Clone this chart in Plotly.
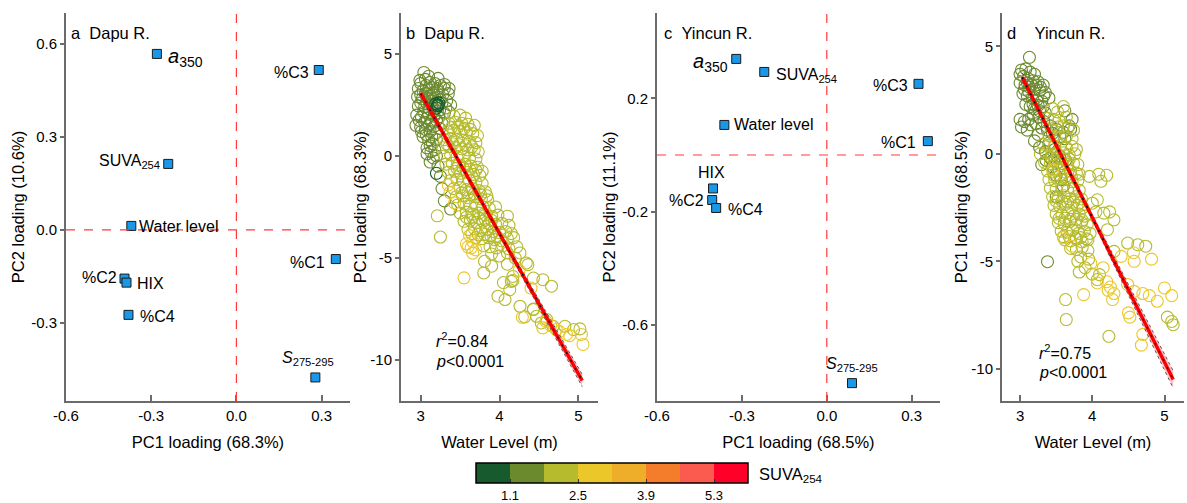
import plotly.graph_objects as go

W, H = 1187, 503

# ---------------- PCA loadings (panels a, c) ----------------
pca_vars = ["<i>a</i><sub>350</sub>", "%C3", "SUVA<sub>254</sub>", "Water level", "%C1",
            "%C2", "HIX", "%C4", "<i>S</i><sub>275-295</sub>"]
dapu_pc1 = [-0.28, 0.29, -0.24, -0.37, 0.35, -0.394, -0.387, -0.38, 0.278]
dapu_pc2 = [0.568, 0.516, 0.213, 0.013, -0.094, -0.157, -0.170, -0.274, -0.476]
yincun_pc1 = [-0.32, 0.324, -0.221, -0.362, 0.357, -0.405, -0.402, -0.391, 0.089]
yincun_pc2 = [0.339, 0.251, 0.293, 0.106, 0.049, -0.159, -0.118, -0.187, -0.805]

# ---------------- Dapu R. PC1 vs water level (panel b) ----------------
dapu_wl = [
    # green
    3.04, 2.99, 3.06, 3.12, 3.18, 3.25, 3.30, 2.97, 3.03, 3.10, 3.16, 3.22, 3.28, 3.35,
    2.96, 3.02, 3.08, 3.14, 3.20, 3.27, 3.33, 3.38, 2.97, 3.05, 3.11, 3.17, 3.24, 3.30, 3.36,
    2.95, 3.01, 3.08, 3.14, 3.20, 3.27, 2.94, 3.00, 3.06, 3.12, 3.19, 3.03, 3.10, 3.15,
    3.08, 3.13, 3.20, 3.12, 3.22, 3.25, 3.27, 3.30, 3.38,
    3.00, 3.07, 3.14, 3.21, 3.00, 3.06, 3.12, 3.18, 3.25, 3.00, 3.08, 3.14, 3.32, 3.04,
    3.10, 3.17, 3.23, 2.98, 3.05, 3.11, 3.17, 3.24, 3.01, 3.07, 3.14, 3.20, 3.12, 3.18,
    3.08, 3.16, 3.30, 3.36, 3.22, 3.10,
    # dark green
    3.19, 3.21, 3.20, 3.23, 3.20, 3.22,
    # yellow-green
    3.42, 3.50, 3.57, 3.36, 3.44, 3.52, 3.60, 3.68, 3.34, 3.42, 3.50, 3.58, 3.66, 3.72,
    3.30, 3.38, 3.46, 3.54, 3.62, 3.70, 3.28, 3.36, 3.44, 3.52, 3.60, 3.68, 3.73,
    3.30, 3.38, 3.46, 3.54, 3.62, 3.70, 3.32, 3.40, 3.48, 3.56, 3.64, 3.72,
    3.35, 3.43, 3.51, 3.59, 3.67, 3.75, 3.38, 3.46, 3.54, 3.62, 3.70, 3.78,
    3.42, 3.50, 3.58, 3.66, 3.74, 3.82, 3.45, 3.53, 3.61, 3.69, 3.77, 3.85,
    3.47, 3.55, 3.63, 3.71, 3.79, 3.87, 3.95, 3.50, 3.58, 3.66, 3.74, 3.82, 3.90, 3.98,
    3.55, 3.63, 3.71, 3.79, 3.87, 3.95, 4.03, 3.60, 3.68, 3.76, 3.84, 3.92, 4.00, 4.08,
    3.70, 3.78, 3.86, 3.94, 4.02, 4.10, 4.18, 3.80, 3.88, 3.96, 4.04, 4.12, 4.22,
    3.90, 4.00, 4.10, 4.26, 4.10, 4.12, 4.15,
    3.81, 3.80, 4.34, 4.43, 4.55, 4.66, 4.13, 4.26, 4.32, 4.36, 4.05, 4.17, 4.43,
    4.20, 4.10, 3.90, 3.21,
    3.39, 3.47, 3.55, 3.63, 3.33, 3.41, 3.49, 3.57, 3.65, 3.46, 3.54, 3.62, 3.70, 3.78,
    3.52, 3.60, 3.68, 3.76, 3.84, 3.58, 3.66, 3.74, 3.82, 3.90, 3.65, 3.73, 3.81, 3.89, 3.97,
    # yellow
    3.25, 4.17, 3.98, 4.07, 4.15, 4.43, 4.47, 4.53, 4.60, 4.68, 4.83, 4.94, 5.02, 5.04,
    5.06, 4.85, 4.55, 4.40, 4.72, 4.76, 4.89, 4.65, 4.59, 4.29, 4.25,
    # light orange
    3.62, 3.66, 3.70, 3.43, 3.58,
    # orange
    3.35, 3.37, 3.55, 3.66, 3.64, 3.60,
]
dapu_score = [
    # green
    4.09, 3.70, 3.75, 3.60, 3.55, 3.45, 3.30, 3.30, 3.20, 3.25, 3.10, 3.15, 3.00, 3.05,
    2.90, 2.80, 2.85, 2.70, 2.65, 2.60, 2.70, 2.50, 2.45, 2.40, 2.30, 2.20, 2.25, 2.10, 2.15,
    2.00, 1.90, 1.85, 1.70, 1.75, 1.60, 1.50, 1.40, 1.30, 1.20, 1.10, 0.95, 0.80, 0.60,
    0.40, 0.20, 0.00, -0.30, -0.50, -1.00, -1.60, -2.20, -2.60,
    3.55, 3.45, 3.35, 3.30, 3.00, 3.05, 2.95, 2.85, 2.75, 2.60, 2.55, 2.50, 2.35, 2.15,
    2.05, 1.95, 1.90, 1.75, 1.65, 1.55, 1.45, 1.35, 1.20, 1.05, 0.95, 0.80, 0.50, 0.30,
    0.10, -0.10, 3.50, 3.30, 3.80, 3.90,
    # dark green
    2.55, 2.45, 2.35, 2.60, -0.85, 2.50,
    # yellow-green
    1.95, 2.00, 1.85, 1.60, 1.65, 1.60, 1.55, 1.50, 1.20, 1.25, 1.20, 1.15, 1.10, 1.00,
    0.80, 0.85, 0.80, 0.75, 0.70, 0.65, 0.40, 0.45, 0.40, 0.35, 0.30, 0.30, 0.20,
    0.00, 0.05, -0.05, 0.00, -0.10, -0.15, -0.40, -0.35, -0.45, -0.40, -0.50, -0.55,
    -0.80, -0.75, -0.85, -0.80, -0.90, -0.95, -1.20, -1.15, -1.25, -1.20, -1.30, -1.35,
    -1.60, -1.55, -1.65, -1.60, -1.70, -1.75, -2.00, -1.95, -2.05, -2.00, -2.10, -2.15,
    -2.40, -2.35, -2.45, -2.40, -2.50, -2.55, -2.50, -2.80, -2.75, -2.85, -2.80, -2.90, -2.95, -2.90,
    -3.20, -3.15, -3.25, -3.20, -3.30, -3.35, -3.30, -3.60, -3.55, -3.65, -3.60, -3.70, -3.75, -3.70,
    -4.00, -4.05, -4.00, -4.10, -4.15, -4.05, -4.00, -4.40, -4.45, -4.50, -4.40, -4.55, -4.45,
    -4.80, -4.90, -4.75, -4.75, -2.95, -3.40, -3.80,
    -5.16, -5.73, -5.24, -5.98, -6.06, -6.38, -6.55, -7.36, -7.88, -5.32, -6.20, -6.10, -7.50,
    -5.00, -5.30, -5.40, -2.93,
    1.40, 1.40, 1.35, 1.30, 0.60, 0.60, 0.55, 0.50, 0.45, -0.60, -0.60, -0.65, -0.70, -0.75,
    -1.80, -1.80, -1.85, -1.90, -1.95, -3.00, -3.00, -3.05, -3.10, -3.15, -3.80, -3.85, -3.85, -3.90, -3.95,
    # yellow
    -3.97, -5.90, -6.87, -7.03, -6.14, -7.52, -7.85, -8.18, -8.01, -8.34, -8.34, -8.50, -8.47, -8.74,
    -9.23, -8.74, -8.42, -6.47, -8.50, -8.60, -8.80, -8.30, -8.10, -7.90, -5.60,
    # light orange
    -3.90, -4.20, -4.60, -2.30, -4.30,
    # orange
    -1.42, -1.80, -5.97, -4.76, -4.50, -4.45,
]
dapu_suva = ([1.45] * 86 + [0.75] * 6 + [2.15] * 170 + [2.85] * 25 + [3.55] * 5 + [4.25] * 6)

# ---------------- Yincun R. PC1 vs water level (panel d) ----------------
yincun_wl = [
    # green
    3.13, 3.02, 3.08, 3.14, 3.20, 3.05, 3.11, 3.18, 3.25, 3.32, 3.00, 3.07, 3.13, 3.20,
    3.27, 3.35, 3.04, 3.10, 3.17, 3.23, 3.30, 3.08, 3.14, 3.20, 3.27, 3.35, 3.00, 3.06,
    3.10, 3.15, 3.22, 3.30, 3.38, 3.45, 3.55, 3.62, 3.20, 3.27, 3.35, 3.42, 3.30, 3.45,
    3.50, 3.57, 3.38, 3.25,
    3.00, 3.10, 3.16, 3.22, 3.28, 3.33, 3.40, 3.12, 3.06, 3.18, 3.25, 3.32, 3.02, 3.12,
    3.18, 3.26, 3.33, 3.42, 3.50, 3.60, 3.70, 3.40, 3.48, 3.55, 3.36, 3.50, 3.60,
    3.62, 3.72, 3.68, 3.52, 3.58, 3.63,
    # yellow-green
    3.45, 3.52, 3.60, 3.38, 3.46, 3.54, 3.64, 3.52, 3.60, 3.66, 3.74,
    3.40, 3.48, 3.56, 3.64, 3.72, 3.32, 3.40, 3.48, 3.56, 3.64, 3.72, 3.78,
    3.28, 3.36, 3.44, 3.52, 3.60, 3.68, 3.76, 3.34, 3.42, 3.48, 3.66, 3.74, 3.80,
    3.38, 3.46, 3.54, 3.62, 3.70, 3.78, 3.40, 3.48, 3.56, 3.64, 3.72, 3.80,
    3.42, 3.50, 3.58, 3.66, 3.74, 3.82, 3.45, 3.53, 3.61, 3.69, 3.77, 3.85,
    3.47, 3.55, 3.63, 3.71, 3.79, 3.87, 3.50, 3.58, 3.66, 3.74, 3.82, 3.90,
    3.53, 3.61, 3.69, 3.77, 3.85, 3.93, 3.57, 3.65, 3.73, 3.81, 3.89, 3.97,
    3.62, 3.70, 3.78, 3.86, 3.94, 3.70, 3.78, 3.86, 3.94,
    3.82, 3.96, 4.09, 4.20, 4.00, 4.05, 4.24, 4.12, 4.07, 4.16, 4.30, 4.21,
    3.80, 3.84, 3.90, 4.00, 4.07, 3.82, 3.63, 3.64, 4.23, 5.04, 5.10, 5.12,
    3.95, 4.10, 4.30,
    3.44, 3.52, 3.60, 3.68, 3.47, 3.55, 3.63, 3.71, 3.50, 3.58, 3.66, 3.74, 3.82,
    3.54, 3.62, 3.70, 3.78, 3.86, 3.60, 3.68, 3.76, 3.84, 3.92,
    # yellow
    4.49, 4.63, 4.74, 4.57, 4.58, 4.40, 4.82, 3.88, 4.07, 4.20, 4.25, 4.30, 4.22, 4.28,
    4.49, 4.58, 4.70, 4.79, 4.90, 4.50, 4.52, 4.68, 4.70, 5.00, 5.10, 3.98, 4.15,
    # light orange / orange
    3.60, 3.45, 3.72,
]
yincun_score = [
    # green
    4.49, 3.90, 3.95, 3.80, 3.70, 3.60, 3.50, 3.40, 3.35, 3.20, 3.30, 3.20, 3.10, 3.00,
    2.95, 2.85, 2.80, 2.70, 2.60, 2.50, 2.45, 2.30, 2.20, 2.10, 2.00, 1.90, 1.60, 1.50,
    1.10, 1.35, 1.40, 1.20, 1.10, 0.95, 0.80, 0.70, 0.60, 0.30, 0.10, -0.20, -0.50, -0.60,
    -1.00, -1.20, -5.02, 0.90,
    3.70, 3.30, 3.20, 3.20, 3.10, 2.70, 2.60, 2.90, 3.00, 2.30, 2.25, 2.20, 1.25, 1.60,
    1.80, 1.70, 1.50, 1.30, 1.15, 1.00, 1.15, 0.50, 0.20, -0.10, -0.30, -2.00, -1.50,
    2.00, 1.60, 1.30, -0.40, -0.45, -0.30,
    # yellow-green
    2.10, 1.95, 2.20, 1.65, 1.60, 1.55, 1.70, 1.25, 1.30, 1.20, 1.10,
    0.85, 0.80, 0.75, 0.80, 0.70, 0.45, 0.40, 0.35, 0.40, 0.30, 0.35, 0.20,
    0.00, 0.05, -0.05, 0.00, 0.05, -0.05, 0.00, -0.40, -0.45, -0.35, -0.50, -0.45, -0.50,
    -0.80, -0.85, -0.75, -0.85, -0.80, -0.90, -1.20, -1.25, -1.15, -1.20, -1.30, -1.25,
    -1.60, -1.65, -1.60, -1.70, -1.60, -1.70, -2.00, -2.05, -1.95, -2.10, -2.00, -2.10,
    -2.40, -2.45, -2.35, -2.50, -2.40, -2.50, -2.80, -2.85, -2.75, -2.90, -2.80, -2.90,
    -3.20, -3.25, -3.15, -3.30, -3.20, -3.30, -3.60, -3.65, -3.55, -3.70, -3.60, -3.70,
    -4.00, -4.05, -3.95, -4.10, -4.00, -4.40, -4.45, -4.35, -4.50,
    -0.95, -1.05, -0.95, -1.00, -2.30, -2.70, -2.70, -1.28, -2.14, -2.76, -3.07, -3.53,
    -5.00, -4.80, -5.30, -5.60, -5.85, -5.50, -6.78, -7.71, -8.49, -7.60, -7.80, -7.95,
    -4.90, -5.62, -4.54,
    -0.20, -0.20, -0.25, -0.25, -1.00, -1.00, -1.05, -1.05, -2.20, -2.20, -2.25, -2.25, -2.30,
    -3.00, -3.00, -3.05, -3.05, -3.10, -3.85, -3.85, -3.90, -3.90, -3.95,
    # yellow
    -4.15, -4.23, -4.30, -4.60, -5.00, -4.77, -4.90, -6.55, -6.01, -5.95, -6.20, -6.50, -6.35, -6.78,
    -6.08, -6.40, -6.50, -6.60, -6.86, -7.40, -7.60, -8.90, -8.40, -6.24, -6.60, -5.10, -5.30,
    # light orange / orange
    -3.90, -0.75, -4.30,
]
yincun_suva = ([1.45] * 79 + [2.15] * 146 + [2.85] * 27 + [3.55, 3.55, 4.25])

# ---------------- regression fits with 95% CI ----------------
dapu_fit_wl = [3.00, 3.50, 4.00, 4.50, 5.05]
dapu_fit = [3.06, -0.37, -3.80, -7.23, -11.00]
dapu_ci_lo = [2.86, -0.47, -3.90, -7.41, -11.30]
dapu_ci_hi = [3.26, -0.27, -3.70, -7.05, -10.70]
yincun_fit_wl = [3.03, 3.50, 4.00, 4.50, 5.12]
yincun_fit = [3.56, 0.41, -2.95, -6.30, -10.50]
yincun_ci_lo = [3.36, 0.31, -3.07, -6.55, -10.90]
yincun_ci_hi = [3.76, 0.51, -2.83, -6.05, -10.10]

# ---------------- colour bar ----------------
suva_edges = [0.4, 1.1, 1.8, 2.5, 3.2, 3.9, 4.6, 5.3, 6.0]
suva_colors = ["#165a2e", "#6b8a2e", "#b5bb2c", "#ebc72a", "#efae2a", "#f37d2a", "#fb5a4e", "#fe0028"]
suva_ticks = [1.1, 2.5, 3.9, 5.3]

# tick labels
pca_ticks = [-0.6, -0.3, 0.0, 0.3]
pca_ticktext = ["-0.6", "-0.3", "0.0", "0.3"]
a_yticks = [-0.3, 0.0, 0.3, 0.6]
a_yticktext = ["-0.3", "0.0", "0.3", "0.6"]
c_yticks = [-0.6, -0.2, 0.2]
c_yticktext = ["-0.6", "-0.2", "0.2"]
wl_ticks = [3, 4, 5]
score_ticks = [-10, -5, 0, 5]
score_ticktext = ["-10", "-5", "0", "5"]

FONT = "Arial, 'Liberation Sans', sans-serif"
AX = "#6b6b6b"

def px_x(p):
    return p / W

def px_y(p):
    return 1 - p / H

fig = go.Figure()

# discrete colorscale
cs = []
n = len(suva_colors)
for i, c in enumerate(suva_colors):
    cs.append([i / n, c])
    cs.append([(i + 1) / n, c])

# ---- panel a ----
fig.add_trace(go.Scatter(x=dapu_pc1, y=dapu_pc2, mode="markers", xaxis="x", yaxis="y",
                         marker=dict(symbol="square", size=9, color="#1a98e8",
                                     line=dict(color="#1a1a1a", width=1)),
                         showlegend=False, hoverinfo="skip"))
# ---- panel c ----
fig.add_trace(go.Scatter(x=yincun_pc1, y=yincun_pc2, mode="markers", xaxis="x3", yaxis="y3",
                         marker=dict(symbol="square", size=9, color="#1a98e8",
                                     line=dict(color="#1a1a1a", width=1)),
                         showlegend=False, hoverinfo="skip"))

def add_reg(xax, yax, wl, score, suva, fx, fy, lo, hi):
    fig.add_trace(go.Scatter(x=wl, y=score, mode="markers", xaxis=xax, yaxis=yax,
                             marker=dict(symbol="circle-open", size=12, color=suva,
                                         coloraxis="coloraxis", line=dict(width=1.1)),
                             showlegend=False, hoverinfo="skip"))
    fig.add_trace(go.Scatter(x=fx, y=lo, mode="lines", xaxis=xax, yaxis=yax,
                             line=dict(color="#555555", width=1, dash="dot"),
                             showlegend=False, hoverinfo="skip"))
    fig.add_trace(go.Scatter(x=fx, y=hi, mode="lines", xaxis=xax, yaxis=yax, fill="tonexty",
                             fillcolor="rgba(255,120,140,0.45)",
                             line=dict(color="#555555", width=1, dash="dot"),
                             showlegend=False, hoverinfo="skip"))
    fig.add_trace(go.Scatter(x=fx, y=fy, mode="lines", xaxis=xax, yaxis=yax,
                             line=dict(color="#ff0000", width=3.5),
                             showlegend=False, hoverinfo="skip"))
    fig.add_trace(go.Scatter(x=fx, y=fy, mode="lines", xaxis=xax, yaxis=yax,
                             line=dict(color="#000000", width=1.3, dash="2px,7px"),
                             showlegend=False, hoverinfo="skip"))

add_reg("x2", "y2", dapu_wl, dapu_score, dapu_suva, dapu_fit_wl, dapu_fit, dapu_ci_lo, dapu_ci_hi)
add_reg("x4", "y4", yincun_wl, yincun_score, yincun_suva, yincun_fit_wl, yincun_fit, yincun_ci_lo, yincun_ci_hi)

def xax(dom, rng, tv, tt, title, anchor):
    return dict(domain=dom, range=rng, tickvals=tv, ticktext=tt, showline=True, linecolor=AX,
                linewidth=2, ticks="inside", ticklen=6, tickcolor=AX, tickwidth=1.5,
                showgrid=False, zeroline=False, tickfont=dict(size=15, color="black"),
                anchor=anchor, automargin=False,
                title=dict(text=title, font=dict(size=16.5, color="black"), standoff=13))

def yax(dom, rng, tv, tt, title, anchor, standoff):
    return dict(domain=dom, range=rng, tickvals=tv, ticktext=tt, showline=True, linecolor=AX,
                linewidth=2, ticks="outside", ticklen=4, tickcolor=AX, tickwidth=1.5,
                showgrid=False, zeroline=False, tickfont=dict(size=15, color="black"),
                anchor=anchor, automargin=False,
                title=dict(text=title, font=dict(size=16.5, color="black"), standoff=standoff))

ydom = [px_y(401), px_y(13)]

fig.update_layout(
    width=W, height=H, margin=dict(l=0, r=0, t=0, b=0, autoexpand=False),
    paper_bgcolor="white", plot_bgcolor="white",
    font=dict(family=FONT, color="black"),
    xaxis=xax([px_x(66), px_x(350)], [-0.6, 0.4], pca_ticks, pca_ticktext, "PC1 loading (68.3%)", "y"),
    yaxis=yax(ydom, [-0.552, 0.70], a_yticks, a_yticktext, "PC2 loading (10.6%)", "x", 2),
    xaxis2=xax([px_x(401), px_x(598)], [2.75, 5.25], wl_ticks, ["3", "4", "5"], "Water Level (m)", "y2"),
    yaxis2=yax(ydom, [-12.0, 7.0], score_ticks, score_ticktext, "PC1 loading (68.3%)", "x2", 0),
    xaxis3=xax([px_x(657), px_x(940)], [-0.6, 0.4], pca_ticks, pca_ticktext, "PC1 loading (68.5%)", "y3"),
    yaxis3=yax(ydom, [-0.868, 0.501], c_yticks, c_yticktext, "PC2 loading (11.1%)", "x3", 2),
    xaxis4=xax([px_x(1002), px_x(1184)], [2.75, 5.27], wl_ticks, ["3", "4", "5"], "Water Level (m)", "y4"),
    yaxis4=yax(ydom, [-11.5, 6.55], score_ticks, score_ticktext, "PC1 loading (68.5%)", "x4", 0),
    coloraxis=dict(
        colorscale=cs, cmin=suva_edges[0], cmax=suva_edges[-1],
        colorbar=dict(orientation="h", x=px_x(612), xanchor="center", y=px_y(463), yanchor="top",
                      len=272 / W, lenmode="fraction", thickness=20, thicknessmode="pixels",
                      outlinecolor="black", outlinewidth=1.5, xpad=0, ypad=0,
                      tickvals=suva_ticks, ticktext=[str(v) for v in suva_ticks],
                      ticks="inside", ticklen=4, tickcolor="#333333",
                      tickfont=dict(size=13, color="black")),
    ),
)

# colour bar title
fig.add_annotation(x=px_x(757), y=px_y(475), xref="paper", yref="paper", text="SUVA<sub>254</sub>",
                   showarrow=False, xanchor="left", yanchor="middle", font=dict(size=16.5, color="black"))

# zero reference lines
for xr, yr in [("x", "y"), ("x3", "y3")]:
    fig.add_shape(type="line", xref=xr, yref=yr + " domain", x0=0, x1=0, y0=0, y1=1,
                  line=dict(color="#ff3b3b", width=1.2, dash="dash"))
    fig.add_shape(type="line", xref=xr + " domain", yref=yr, x0=0, x1=1, y0=0, y1=0,
                  line=dict(color="#ff3b3b", width=1.2, dash="dash"))

# point labels
a_style = [("left", 9, -4, 20), ("right", -8, -2, 16), ("right", -6, 2, 16), ("left", 6, -1, 16),
           ("right", -9, -3, 16), ("right", -6, 1, 16), ("left", 9, -1, 16), ("left", 10, -2, 16),
           ("center", -7, 19, 16)]
c_style = [("right", -6, -4, 20), ("right", -8, -2, 16), ("left", 10, -4, 16), ("left", 8, 0, 16),
           ("right", -10, -1, 16), ("right", -6, 0, 16), ("center", -2, 16, 16), ("left", 10, -2, 16),
           ("center", 0, 19, 16)]
for (xr, yr, xs, ys, st) in [("x", "y", dapu_pc1, dapu_pc2, a_style), ("x3", "y3", yincun_pc1, yincun_pc2, c_style)]:
    for name, xv, yv, (anc, dx, dy, fs) in zip(pca_vars, xs, ys, st):
        fig.add_annotation(x=xv, y=yv, xref=xr, yref=yr, text=name, showarrow=False,
                           xanchor=anc, yanchor="middle", xshift=dx, yshift=dy,
                           font=dict(size=fs, color="black"))

# panel titles
panel_titles = [("x domain", "y domain", "a\u00a0\u00a0Dapu R.", 0.012),
                ("x2 domain", "y2 domain", "b\u00a0\u00a0Dapu R.", 0.015),
                ("x3 domain", "y3 domain", "c\u00a0\u00a0Yincun R.", 0.017),
                ("x4 domain", "y4 domain", "d\u00a0\u00a0\u00a0\u00a0Yincun R.", 0.018)]
for xr, yr, t, xx in panel_titles:
    fig.add_annotation(x=xx, y=1 - 20 / 388, xref=xr, yref=yr, text=t, showarrow=False,
                       xanchor="left", yanchor="middle", font=dict(size=16.5, color="black"))

# statistics
stats = [("x2", "y2", 3.165, -9.0, -10.06, "0.84"), ("x4", "y4", 3.24, -9.24, -10.17, "0.75")]
for xr, yr, xx, y1, y2, r2 in stats:
    fig.add_annotation(x=xx, y=y1, xref=xr, yref=yr, text="<i>r</i><sup>2</sup>=" + r2,
                       showarrow=False, xanchor="left", yanchor="middle", font=dict(size=16))
    fig.add_annotation(x=xx, y=y2, xref=xr, yref=yr, text="<i>p</i>&lt;0.0001",
                       showarrow=False, xanchor="left", yanchor="middle", font=dict(size=16))

fig.write_html("out.html")
